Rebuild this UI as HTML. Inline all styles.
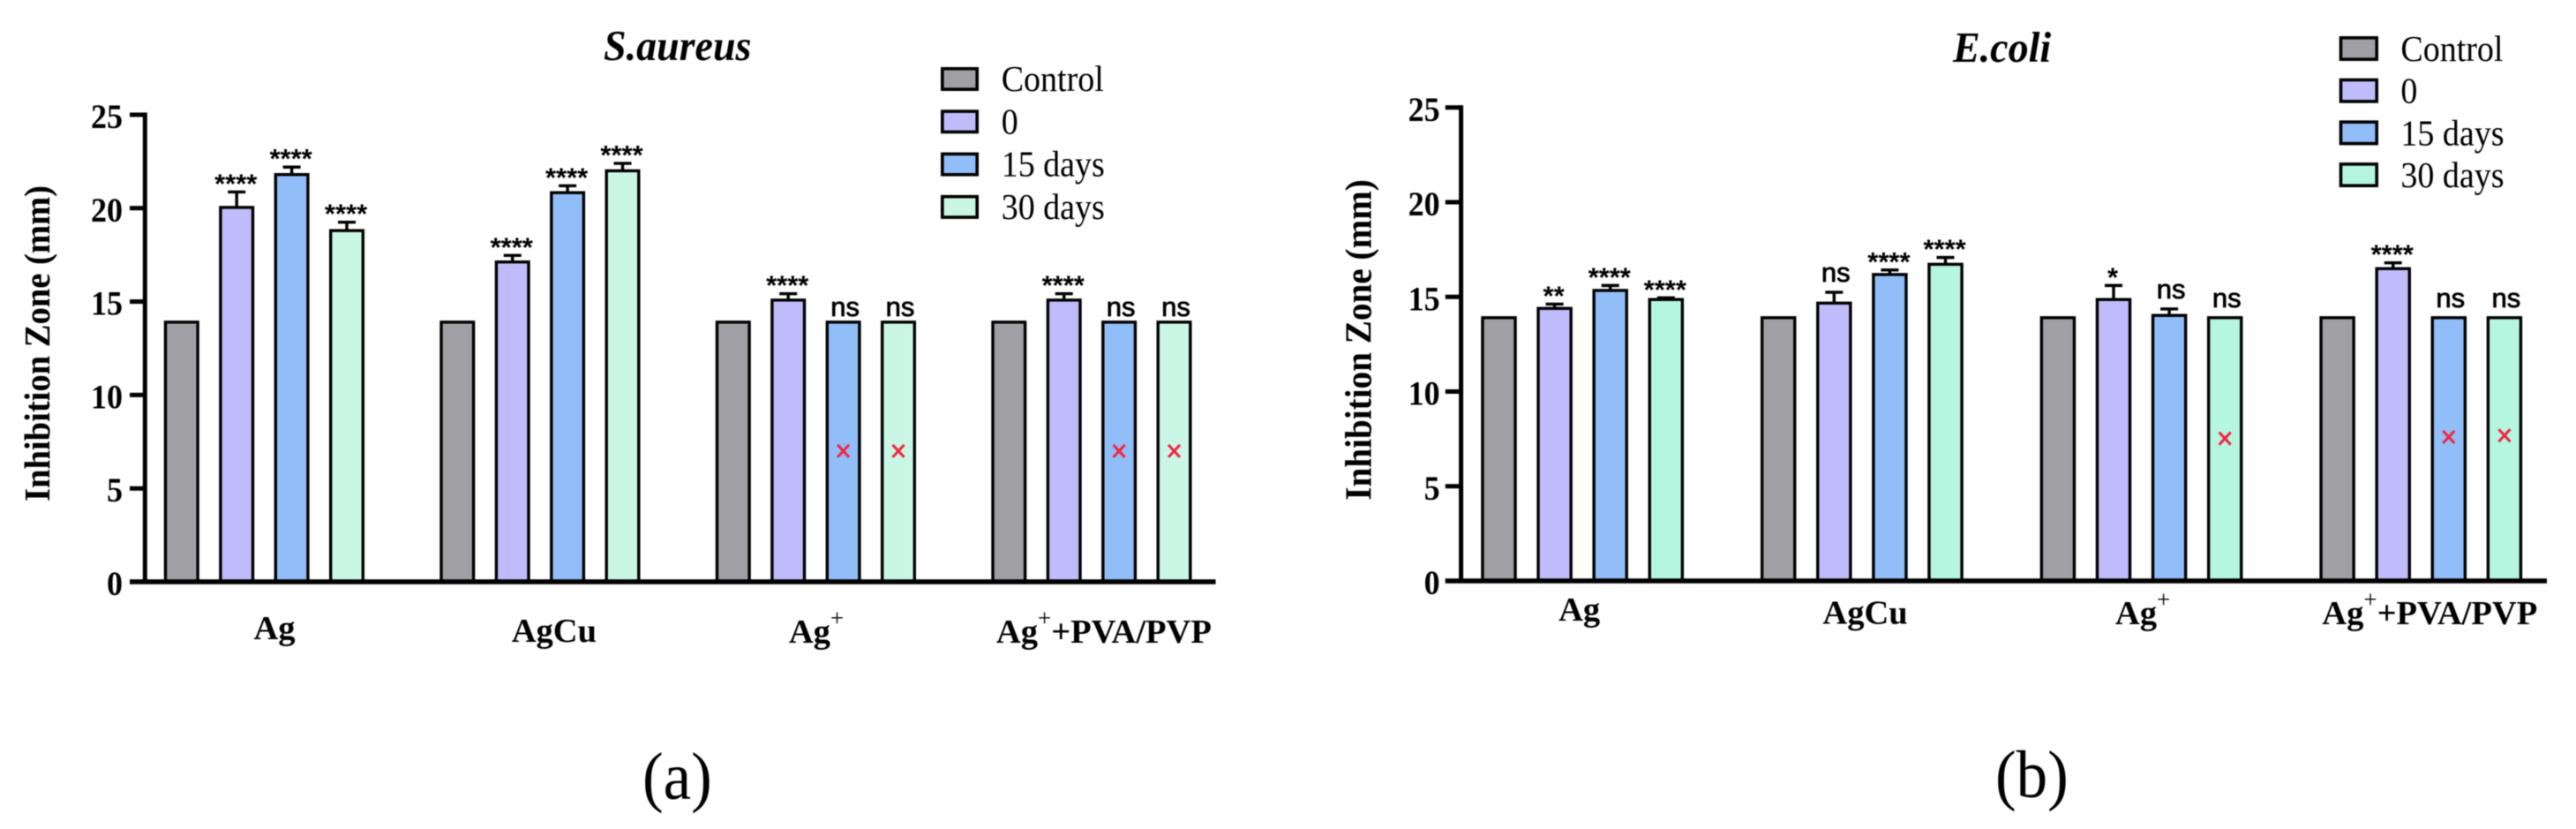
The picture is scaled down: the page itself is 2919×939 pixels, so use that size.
<!DOCTYPE html>
<html lang="en">
<head>
<meta charset="utf-8">
<title>Inhibition Zone charts</title>
<style>
html,body{margin:0;padding:0;background:#fff;width:2919px;height:939px;overflow:hidden}
svg{display:block;filter:blur(0.6px)}
text{font-family:"Liberation Serif",serif;fill:#000}
.sig{font-family:"Liberation Sans",sans-serif}
.ns{stroke:#000;stroke-width:0.8px}
</style>
</head>
<body>
<svg id="figure" xmlns="http://www.w3.org/2000/svg" width="2919" height="939" viewBox="0 0 2919 939"></svg>
<script>
// ---- shared chart data ----
const categories = ["Ag", "AgCu", "Ag+", "Ag+ +PVA/PVP"];
const seriesNames = ["Control", "0", "15 days", "30 days"];
const tickLabels = [0, 5, 10, 15, 20, 25];

// ---- S.aureus values (mm) ----
const saControl = [13.9, 13.9, 13.9, 13.9];
const saZero = [20.04, 17.12, 15.08, 15.08];
const saFifteen = [21.8, 20.83, 13.9, 13.9];
const saThirty = [18.8, 22.0, 13.9, 13.9];
const saZeroErr = [0.83, 0.35, 0.34, 0.34];
const saFifteenErr = [0.4, 0.37, 0, 0];
const saThirtyErr = [0.45, 0.4, 0, 0];
const saZeroSig = ["****", "****", "****", "****"];
const saFifteenSig = ["****", "****", "ns", "ns"];
const saThirtySig = ["****", "****", "ns", "ns"];
const saFifteenCross = [null, null, 7.0, 7.0];
const saThirtyCross = [null, null, 7.0, 7.0];

// ---- E.coli values (mm) ----
const ecControl = [13.9, 13.9, 13.9, 13.9];
const ecZero = [14.39, 14.67, 14.86, 16.49];
const ecFifteen = [15.34, 16.18, 14.02, 13.9];
const ecThirty = [14.86, 16.72, 13.9, 13.9];
const ecZeroErr = [0.23, 0.57, 0.74, 0.31];
const ecFifteenErr = [0.26, 0.24, 0.34, 0];
const ecThirtyErr = [0.09, 0.36, 0, 0];
const ecZeroSig = ["**", "ns", "*", "****"];
const ecFifteenSig = ["****", "****", "ns", "ns"];
const ecThirtySig = ["****", "****", "ns", "ns"];
const ecFifteenCross = [null, null, null, 7.6];
const ecThirtyCross = [null, null, 7.52, 7.68];

const barColors = { control: "#a09fa4", zero: "#c0bcfb", fifteen: "#91bdf9" };

const SVG_NS = "http://www.w3.org/2000/svg";
const fig = document.getElementById("figure");

function el(parent, tag, attrs) {
  const node = document.createElementNS(SVG_NS, tag);
  for (const k in attrs) node.setAttribute(k, attrs[k]);
  parent.appendChild(node);
  return node;
}

function txt(parent, str, x, y, size, sy, opts) {
  const o = opts || {};
  const node = el(parent, "text", {
    transform: "translate(" + x + "," + y + ") scale(1," + sy + ")",
    "font-size": size,
    "font-weight": o.weight || "normal",
    "font-style": o.style || "normal",
    "text-anchor": o.anchor || "start"
  });
  if (o.cls) node.setAttribute("class", o.cls);
  node.textContent = str;
  return node;
}

function drawPanel(p) {
  const g = el(fig, "g", {});
  
  

  const yScale = v => p.y0 - v * p.unit;
  const xScale = (group, series) => p.x0 + series * p.step + group * p.groupStep;

  // bars, error bars, significance labels, no-growth markers
  p.series.forEach((s, si) => {
    s.values.forEach((v, gi) => {
      const cx = xScale(gi, si);
      const top = yScale(v);
      const bar = el(g, "rect", {
        x: cx - (p.barW - 3.4) / 2, y: top,
        width: p.barW - 3.4, height: p.y0 - top,
        fill: s.color, stroke: "#000", "stroke-width": 3.4
      });
      
      

      const err = s.err ? s.err[gi] : 0;
      const capY = yScale(v + err);
      if (err > 0) {
        const eb = el(g, "path", {
          d: "M" + cx + " " + top + "V" + capY + "M" + (cx - 10) + " " + capY + "H" + (cx + 10),
          stroke: "#000", "stroke-width": 3.4, fill: "none"
        });
        
        
      }

      const sig = s.sig ? s.sig[gi] : null;
      if (sig) {
        const isNs = sig === "ns";
        const lx = isNs ? cx + 2 : cx - 1;
        const ly = isNs ? capY - p.nsGap : capY - 12 + 13;
        const t = txt(g, sig, lx, ly, 31, 1, { anchor: "middle", cls: isNs ? "sig ns" : "sig", weight: isNs ? "normal" : "bold" });
        
        
      }

      const cross = s.cross ? s.cross[gi] : null;
      if (cross !== null && cross !== undefined) {
        const my = yScale(cross);
        const m = el(g, "path", {
          d: "M" + (cx - 6.5) + " " + (my - 7) + "L" + (cx + 6.5) + " " + (my + 7) +
             "M" + (cx + 6.5) + " " + (my - 7) + "L" + (cx - 6.5) + " " + (my + 7),
          stroke: "#f2233f", "stroke-width": 3, fill: "none"
        });
        
        
      }
    });
  });

  // axes
  const yAxis = el(g, "line", { x1: p.axisX, x2: p.axisX, y1: yScale(25) - 2.5, y2: p.y0, stroke: "#000", "stroke-width": 5 });
  
  
  const xAxis = el(g, "line", { x1: p.tickX, x2: p.axisEnd, y1: p.y0, y2: p.y0, stroke: "#000", "stroke-width": 5.5 });
  
  

  tickLabels.forEach(v => {
    const ty = yScale(v);
    const tick = el(g, "line", { x1: p.tickX, x2: p.axisX, y1: ty, y2: ty, stroke: "#000", "stroke-width": 5 });
    
    
    const lab = txt(g, String(v), p.tickTextX, ty + 15, 36, 1.1, { anchor: "end", weight: "bold" });
    
    
  });

  // y-axis title
  const yt = el(g, "text", {
    transform: "translate(" + p.yTitleX + "," + p.yTitleY + ") rotate(-90) scale(1,1.08)",
    "font-size": p.yTitleSize, "font-weight": "bold", "text-anchor": "middle"
  });
  yt.textContent = "Inhibition Zone (mm)";
  
  

  // chart title
  const title = txt(g, p.title, p.titleX, p.titleY, 46, 1.05, { weight: "bold", style: "italic" });
  
  

  // category labels
  categories.forEach((c, i) => {
    const cx = xScale(i, 1.5) + p.catNudge[i];
    const parts = c.split("+");
    const t = el(g, "text", {
      x: cx, y: p.catBase[i], "font-size": 38.5, "font-weight": "bold", "text-anchor": "middle"
    });
    const base = el(t, "tspan", {});
    base.textContent = parts[0];
    if (parts.length > 1) {
      const sup = el(t, "tspan", { dy: -19, "font-size": 27, "font-weight": "normal" });
      sup.textContent = "+";
      if (parts[1].trim() === "" && parts.length > 2) {
        const rest = el(t, "tspan", { dy: 19 });
        rest.textContent = "+" + parts[2];
      }
    }
    
    
  });

  // legend
  const lg = el(g, "g", {});
  
  
  seriesNames.forEach((n, i) => {
    const top = p.legTop + i * p.legStep;
    const sw = el(lg, "rect", {
      x: p.legX + 1.8, y: top + 1.8, width: p.legW - 3.6, height: p.legH - 3.6,
      fill: p.series[i].color, stroke: "#000", "stroke-width": 3.6
    });
    
    
    const t = txt(lg, n, p.legTextX, top + p.legH, 38, 1.08, {});
    
    
  });

  // panel letter
  const pl = txt(g, p.letter, p.letterX, p.letterY, 71, 1.08, {});
  
  
}

drawPanel({
  key: "s-aureus", title: "S.aureus", letter: "(a)",
  y0: 659, unit: 21.16, x0: 205.8, step: 62.4, groupStep: 312.5, barW: 40,
  axisX: 164.3, tickX: 147, axisEnd: 1377.5, tickTextX: 139,
  yTitleX: 56, yTitleY: 389, yTitleSize: 38.6,
  titleX: 684, titleY: 68,
  catNudge: [11.6, 16, 0.6, 14], catBase: [724, 727, 728, 728],
  nsGap: 7,
  legX: 1066, legW: 43, legH: 27, legTop: 76, legStep: 48.3, legTextX: 1134.7,
  letterX: 728, letterY: 905,
  series: [
    { id: "control", color: barColors.control, values: saControl },
    { id: "0", color: barColors.zero, values: saZero, err: saZeroErr, sig: saZeroSig },
    { id: "15-days", color: barColors.fifteen, values: saFifteen, err: saFifteenErr, sig: saFifteenSig, cross: saFifteenCross },
    { id: "30-days", color: "#caf7e5", values: saThirty, err: saThirtyErr, sig: saThirtySig, cross: saThirtyCross }
  ]
});

drawPanel({
  key: "e-coli", title: "E.coli", letter: "(b)",
  y0: 658, unit: 21.45, x0: 1698.5, step: 63.1, groupStep: 316.7, barW: 40.5,
  axisX: 1655.6, tickX: 1637.8, axisEnd: 2886, tickTextX: 1631.6,
  yTitleX: 1553.6, yTitleY: 385, yTitleSize: 39.2,
  titleX: 2213, titleY: 70,
  catNudge: [-3.5, 3.7, 1.5, 10], catBase: [703, 706.7, 707, 707],
  nsGap: 12,
  legX: 2650.7, legW: 44.3, legH: 28, legTop: 41, legStep: 47.7, legTextX: 2720.4,
  letterX: 2261, letterY: 903,
  series: [
    { id: "control", color: barColors.control, values: ecControl },
    { id: "0", color: barColors.zero, values: ecZero, err: ecZeroErr, sig: ecZeroSig },
    { id: "15-days", color: barColors.fifteen, values: ecFifteen, err: ecFifteenErr, sig: ecFifteenSig, cross: ecFifteenCross },
    { id: "30-days", color: "#b4f6df", values: ecThirty, err: ecThirtyErr, sig: ecThirtySig, cross: ecThirtyCross }
  ]
});
</script>
</body>
</html>
